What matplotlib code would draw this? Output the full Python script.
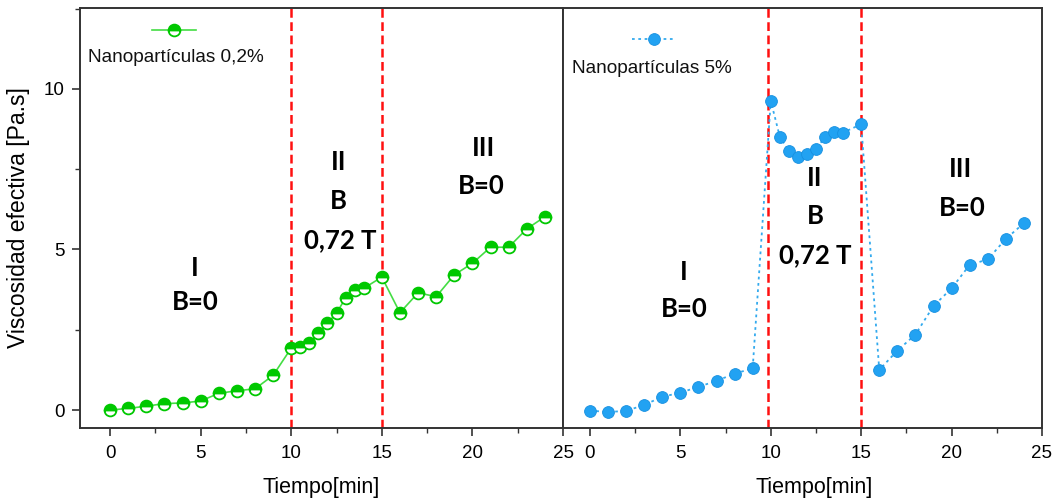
import matplotlib
matplotlib.use("Agg")
import matplotlib.pyplot as plt
from matplotlib.ticker import MultipleLocator

# ---------------- data ----------------
t_low = [0, 1, 2, 3, 4, 5, 6, 7, 8, 9, 10, 10.5, 11, 11.5, 12, 12.5, 13, 13.5, 14,
         15, 16, 17, 18, 19, 20, 21, 22, 23, 24]
visc_low = [0.0, 0.05, 0.12, 0.20, 0.22, 0.28, 0.52, 0.60, 0.66, 1.08, 1.93, 1.95,
            2.08, 2.39, 2.70, 3.02, 3.49, 3.75, 3.79, 4.14, 3.03, 3.65, 3.53, 4.21,
            4.57, 5.07, 5.07, 5.64, 6.02]

t_high = [0, 1, 2, 3, 4, 5, 6, 7, 8, 9, 10, 10.5, 11, 11.5, 12, 12.5, 13, 13.5, 14,
          15, 16, 17, 18, 19, 20, 21, 22, 23, 24]
visc_high = [-0.02, -0.06, -0.03, 0.16, 0.41, 0.54, 0.72, 0.91, 1.13, 1.30, 9.63,
             8.51, 8.07, 7.87, 7.98, 8.13, 8.50, 8.66, 8.64, 8.90, 1.25, 1.85, 2.35,
             3.24, 3.79, 4.52, 4.69, 5.33, 5.82]

label_low = "Nanopartículas 0,2%"
label_high = "Nanopartículas 5%"
field_lines_low = [10, 15]
field_lines_high = [9.87, 15]
x_ticks = [0, 5, 10, 15, 20, 25]
y_ticks = [0, 5, 10]

# region annotations: (x, y, text)
notes_low = [(4.7, 4.42, "I"), (4.7, 3.36, "B=0"),
             (12.6, 7.73, "II"), (12.6, 6.51, "B"), (12.7, 5.30, "0,72 T"),
             (20.6, 8.16, "III"), (20.5, 6.98, "B=0")]
notes_high = [(5.2, 4.30, "I"), (5.2, 3.15, "B=0"),
              (12.45, 7.23, "II"), (12.45, 6.04, "B"), (12.45, 4.83, "0,72 T"),
              (20.5, 7.51, "III"), (20.6, 6.29, "B=0")]

# ---------------- style ----------------
plt.rcParams['font.family'] = ['Liberation Sans', 'DejaVu Sans']
spine_c = '#333333'
green_line = '#44dd44'
green_mk = '#00c800'
blue_line = '#33aaee'
blue_mk = '#22a2f2'
red = '#ff1010'

fig = plt.figure(figsize=(10.57, 5.0), dpi=100)
axL = fig.add_axes([80/1057, 72/500, 483/1057, 420/500])
axR = fig.add_axes([563/1057, 72/500, 479/1057, 420/500], sharey=axL)

ylim = (-0.56, 12.52)

def style_axis(ax, xlim, label_x):
    ax.set_xlim(*xlim)
    ax.set_ylim(*ylim)
    for s in ax.spines.values():
        s.set_color(spine_c)
        s.set_linewidth(1.4)
    ax.set_xticks(x_ticks)
    ax.xaxis.set_minor_locator(MultipleLocator(2.5))
    ax.tick_params(axis='x', which='major', direction='out', length=6, width=1.2,
                   color=spine_c, labelsize=13.5, pad=6)
    ax.tick_params(axis='x', which='minor', direction='out', length=3.5, width=1.0,
                   color=spine_c)
    ax.set_xlabel("Tiempo[min]", fontsize=15.5)
    ax.xaxis.set_label_coords(label_x, -0.117)

style_axis(axL, (-1.66, 25), 0.5)
style_axis(axR, (-1.49, 25), 0.525)

axL.set_yticks(y_ticks)
axL.yaxis.set_minor_locator(MultipleLocator(2.5))
axL.tick_params(axis='y', which='major', direction='out', length=6, width=1.2,
                color=spine_c, labelsize=13.5, pad=5)
axL.tick_params(axis='y', which='minor', direction='out', length=3.5, width=1.0,
                color=spine_c)
axL.set_ylabel("Viscosidad efectiva [Pa.s]", fontsize=16.5, labelpad=10)
axR.tick_params(axis='y', which='both', left=False, labelleft=False)

# red dashed field lines
for xv in field_lines_low:
    axL.axvline(xv, color=red, lw=1.8, ls=(0, (3.5, 1.8)), zorder=1)
for xv in field_lines_high:
    axR.axvline(xv, color=red, lw=1.8, ls=(0, (3.5, 1.8)), zorder=1)

# series
lnL, = axL.plot(t_low, visc_low, color=green_line, lw=1.2, marker='o', ms=8.5,
                fillstyle='top', markerfacecolor=green_mk, markerfacecoloralt='white',
                markeredgecolor=green_mk, markeredgewidth=1.3, zorder=3)
lnR, = axR.plot(t_high, visc_high, color=blue_line, lw=1.3, ls=(0, (1.5, 2.0)),
                marker='o', ms=8.5, markerfacecolor=blue_mk, markeredgecolor='#1890e0',
                markeredgewidth=0.6, zorder=3)

# legends (handle above text, Origin style)
for ax, ln, anchor, txt, txy in [
        (axL, lnL, (0.1946, 0.943), label_low, (0.0166, 0.883)),
        (axR, lnR, (0.19, 0.921), label_high, (0.0188, 0.855))]:
    ax.legend(handles=[ln], labels=[''], loc='center', bbox_to_anchor=anchor,
              frameon=False, handlelength=2.3, handletextpad=0, borderpad=0,
              borderaxespad=0, numpoints=1, fontsize=13.7)
    ax.text(txy[0], txy[1], txt, transform=ax.transAxes, fontsize=13.7,
            ha='left', va='center', color='#111111')

# bold region labels
for ax, notes in [(axL, notes_low), (axR, notes_high)]:
    for x, y, s in notes:
        ax.text(x, y, s, ha='center', va='center', fontsize=18.5, fontweight='bold',
                family=['Lato', 'DejaVu Sans'], color='black')

fig.savefig("out.png", dpi=100)
